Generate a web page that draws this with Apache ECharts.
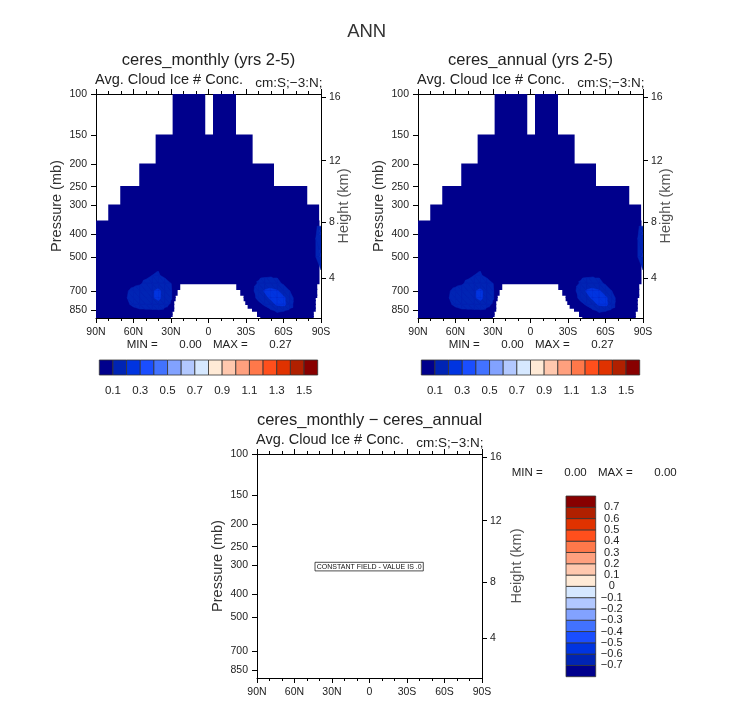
<!DOCTYPE html>
<html><head><meta charset="utf-8">
<script src="https://cdn.jsdelivr.net/npm/echarts@6/dist/echarts.min.js"></script>
<style>html,body{margin:0;padding:0;background:#fff}#c{width:733px;height:703px}</style>
</head><body><div id="c"></div>
<script>
// ---------------- data ----------------
const latTicks = [90, 60, 30, 0, -30, -60, -90];
const presTicks = [100, 150, 200, 250, 300, 400, 500, 700, 850];
const heightTicks = [4, 8, 12, 16];
const pTopAxis = 100, pBottomAxis = 915;

const contourLevels = [0.1,0.2,0.3,0.4,0.5,0.6,0.7,0.8,0.9,1.0,1.1,1.2,1.3,1.4,1.5];
const contourLabelLevels = [0.1,0.3,0.5,0.7,0.9,1.1,1.3,1.5];
const diffLevels = [-0.7,-0.6,-0.5,-0.4,-0.3,-0.2,-0.1,0,0.1,0.2,0.3,0.4,0.5,0.6,0.7];
const levelColors = ['#00008c','#0024b4','#0034e0','#1a4eff','#4272ff','#82a2ff','#b2c8ff','#d6e8ff',
                     '#ffead6','#ffc8ae','#ffa07e','#ff784a','#ff4f1c','#e03200','#b02000','#880000'];

// valid (non-missing) data extent per pressure band
const bandTopP    = [100,150,200,250,300,351,651,690,730,747,770,800,830,855,880,900];
const bandBottomP = [150,200,250,300,351,651,690,730,747,770,800,830,855,880,900,915];
const validNorth  = [28.7,42.3,55.4,70.6,80.2,90,90,90,90,90,90,90,90,90,90,90];
const validSouth  = [-22,-35.3,-52.4,-79,-88.5,-88.8,-87,-87,-87,-85.8,-85.8,-85.8,-85.8,-84.2,-84.2,-84.2];
const gapNorth    = [2.6,null,null,null,null,null,22.6,24.7,26.3,26.3,27.4,27.4,27.4,28.7,28.7,30];
const gapSouth    = [-3.6,null,null,null,null,null,-22.2,-25.4,-28.1,-28.1,-29.4,-31.3,-34.8,-38.8,-38.8,-41.4];

// cloud ice number concentration field (lat 90N..90S every 5 deg)
const fieldLats = [90,85,80,75,70,65,60,55,50,45,40,35,30,25,20,15,10,5,0,-5,-10,-15,-20,-25,-30,-35,-40,-45,-50,-55,-60,-65,-70,-75,-80,-85,-90];
const fieldLevels = [350,400,500,600,650,700,750,800,850,900];
const ice350 = [0.04,0.04,0.05,0.05,0.05,0.06,0.06,0.06,0.06,0.07,0.07,0.06,0.05,0.04,0.04,0.04,0.03,0.03,0.03,0.03,0.03,0.04,0.04,0.04,0.05,0.05,0.06,0.06,0.06,0.06,0.06,0.06,0.06,0.06,0.07,0.08,0.08];
const ice400 = [0.04,0.05,0.05,0.05,0.06,0.06,0.07,0.07,0.07,0.07,0.07,0.06,0.05,0.04,0.04,0.03,0.03,0.03,0.03,0.03,0.03,0.03,0.04,0.04,0.05,0.05,0.06,0.06,0.07,0.07,0.07,0.06,0.06,0.07,0.08,0.09,0.13];
const ice500 = [0.05,0.05,0.05,0.06,0.06,0.07,0.07,0.07,0.08,0.08,0.08,0.07,0.06,0.05,0.04,0.04,0.03,0.03,0.03,0.03,0.03,0.04,0.04,0.05,0.05,0.06,0.07,0.07,0.08,0.08,0.07,0.07,0.07,0.07,0.08,0.09,0.15];
const ice600 = [0.05,0.05,0.06,0.06,0.06,0.06,0.07,0.07,0.08,0.10,0.105,0.085,0.07,0.06,0.05,0.04,0.04,0.04,0.04,0.04,0.04,0.04,0.05,0.05,0.06,0.07,0.08,0.085,0.09,0.09,0.08,0.07,0.06,0.06,0.06,0.07,0.08];
const ice650 = [0.05,0.05,0.06,0.06,0.06,0.07,0.08,0.09,0.12,0.14,0.15,0.13,0.10,0.06,0.05,0.04,0.04,0.04,0.04,0.04,0.04,0.04,0.05,0.05,0.05,0.07,0.11,0.14,0.14,0.12,0.09,0.07,0.06,0.06,0.06,0.06,0.07];
const ice700 = [0.05,0.05,0.05,0.06,0.06,0.095,0.12,0.14,0.16,0.19,0.22,0.16,0.105,0.06,0.05,0.04,0.04,0.04,0.04,0.04,0.04,0.04,0.04,0.05,0.05,0.08,0.15,0.21,0.23,0.21,0.15,0.10,0.07,0.06,0.06,0.06,0.06];
const ice750 = [0.05,0.05,0.06,0.06,0.07,0.10,0.13,0.15,0.17,0.19,0.22,0.16,0.105,0.06,0.05,0.04,0.04,0.04,0.04,0.04,0.04,0.04,0.04,0.05,0.05,0.075,0.12,0.17,0.22,0.27,0.22,0.15,0.06,0.06,0.06,0.06,0.06];
const ice800 = [0.05,0.05,0.05,0.06,0.06,0.09,0.115,0.13,0.14,0.15,0.17,0.12,0.09,0.06,0.05,0.04,0.04,0.04,0.04,0.04,0.04,0.04,0.04,0.05,0.05,0.06,0.08,0.11,0.16,0.22,0.23,0.14,0.06,0.06,0.05,0.05,0.05];
const ice850 = [0.05,0.05,0.05,0.05,0.06,0.07,0.08,0.09,0.09,0.09,0.09,0.08,0.07,0.05,0.05,0.04,0.04,0.04,0.04,0.04,0.04,0.04,0.04,0.05,0.05,0.05,0.06,0.07,0.09,0.11,0.105,0.08,0.06,0.05,0.05,0.05,0.05];
const ice900 = [0.05,0.05,0.05,0.05,0.05,0.06,0.06,0.07,0.07,0.07,0.07,0.06,0.06,0.05,0.04,0.04,0.04,0.04,0.04,0.04,0.04,0.04,0.04,0.04,0.05,0.05,0.05,0.06,0.07,0.08,0.07,0.06,0.05,0.05,0.05,0.05,0.05];
const fieldRows = [ice350, ice400, ice500, ice600, ice650, ice700, ice750, ice800, ice850, ice900];

const panelTitles = ['ceres_monthly (yrs 2-5)', 'ceres_annual (yrs 2-5)', 'ceres_monthly \u2212 ceres_annual'];
const panelMin = [0.00, 0.00, 0.00];
const panelMax = [0.27, 0.27, 0.00];

// ---------------- helpers ----------------
const FONT = 'Liberation Sans, Arial, Helvetica, sans-serif';
const TXT = '#222';
const log10 = Math.log10;
function stdPressure(hKm){ const h=hKm*1000; return h<=11000 ? 1013.25*Math.pow(1-2.25577e-5*h,5.25588) : 226.32*Math.exp(-(h-11000)/6341.6); }
function stdHeight(p){ return p>=226.32 ? (1-Math.pow(p/1013.25,1/5.25588))/2.25577e-5/1000 : (11000-6341.6*Math.log(p/226.32))/1000; }

const maskData = [];
for (let k=0;k<bandTopP.length;k++){
  const yt=log10(bandTopP[k]), yb=log10(bandBottomP[k]);
  if (gapNorth[k]===null){ maskData.push([validNorth[k], yt, validSouth[k], yb]); }
  else { maskData.push([validNorth[k], yt, gapNorth[k], yb]); maskData.push([gapSouth[k], yt, validSouth[k], yb]); }
}
const contourCells = [];
for (let j=0;j<fieldLevels.length-1;j++) for (let i=0;i<fieldLats.length-1;i++){
  contourCells.push([fieldLats[i], log10(fieldLevels[j]), fieldLats[i+1], log10(fieldLevels[j+1]),
    fieldRows[j][i], fieldRows[j][i+1], fieldRows[j+1][i], fieldRows[j+1][i+1]]);
}
function clipPoly(pts, vals, t){
  const out=[]; const n=pts.length;
  for (let k=0;k<n;k++){
    const p=pts[k], q=pts[(k+1)%n], vp=vals[k], vq=vals[(k+1)%n];
    const pin=vp>=t, qin=vq>=t;
    if (pin) out.push(p);
    if (pin!==qin){ const f=(t-vp)/(vq-vp); out.push([p[0]+f*(q[0]-p[0]), p[1]+f*(q[1]-p[1])]); }
  }
  return out;
}
function renderMask(params, api){
  const a=api.coord([api.value(0), api.value(1)]), b=api.coord([api.value(2), api.value(3)]);
  const y=Math.min(a[1],b[1]), h=Math.abs(b[1]-a[1]);
  return {type:'rect', shape:{x:Math.min(a[0],b[0]), y:y-0.6, width:Math.abs(b[0]-a[0]), height:h+1.2},
          style:{fill:levelColors[0]}};
}
function renderContour(params, api){
  const la0=api.value(0), y0=api.value(1), la1=api.value(2), y1=api.value(3);
  const v00=api.value(4), v10=api.value(5), v01=api.value(6), v11=api.value(7);
  const P00=api.coord([la0,y0]), P10=api.coord([la1,y0]), P01=api.coord([la0,y1]), P11=api.coord([la1,y1]);
  const tris=[[[P00,P10,P11],[v00,v10,v11]],[[P00,P11,P01],[v00,v11,v01]]];
  const children=[];
  for (let L=0; L<2; L++){
    const t=contourLevels[L], col=levelColors[L+1];
    for (const [pts,vals] of tris){
      const poly=clipPoly(pts,vals,t);
      if (poly.length>=3) children.push({type:'polygon', shape:{points:poly}, style:{fill:col, stroke:col, lineWidth:0.5}});
    }
  }
  return {type:'group', children};
}
function renderBox(params, api){
  const a=api.coord([api.value(0), api.value(1)]), b=api.coord([api.value(2), api.value(3)]);
  return {type:'rect', shape:{x:Math.min(a[0],b[0]), y:Math.min(a[1],b[1]), width:Math.abs(b[0]-a[0]), height:Math.abs(b[1]-a[1])},
          style:{fill:levelColors[api.value(4)], stroke:'#333', lineWidth:0.8}};
}

// ---------------- layout ----------------
const PW=225, PH=224;
const panels=[{left:96, top:94},{left:418, top:94},{left:257, top:454}];
const grids=[], xAxes=[], yAxes=[], series=[], graphics=[];
const lineSt={color:'#000', width:1};
const axLabel={color:TXT, fontFamily:FONT, fontSize:10.5};

panels.forEach((P,g)=>{
  grids.push({left:P.left, top:P.top, width:PW, height:PH, containLabel:false, outerBoundsMode:'none', show:false});
  const baseX={gridIndex:g, type:'value', min:-90, max:90, interval:30, inverse:true,
    axisLine:{show:true, onZero:false, lineStyle:lineSt}, axisTick:{show:true, length:5, lineStyle:lineSt},
    minorTick:{show:true, splitNumber:3, length:3, lineStyle:lineSt}, splitLine:{show:false}, minorSplitLine:{show:false}};
  xAxes.push(Object.assign({}, baseX, {position:'bottom',
    axisLabel:Object.assign({}, axLabel, {margin:9, formatter:v=> v===0?'0':(v>0? v+'N' : (-v)+'S')})}));
  xAxes.push(Object.assign({}, baseX, {position:'top', axisLabel:{show:false}}));
  yAxes.push({gridIndex:g, type:'value', position:'left', min:log10(pTopAxis), max:log10(pBottomAxis), inverse:true,
    axisLine:{show:true, onZero:false, lineStyle:lineSt},
    axisTick:{show:true, length:5, lineStyle:lineSt, customValues:presTicks.map(log10)},
    axisLabel:Object.assign({}, axLabel, {margin:9, customValues:presTicks.map(log10), formatter:v=>String(Math.round(Math.pow(10,v)))}),
    splitLine:{show:false}});
  yAxes.push({gridIndex:g, type:'value', position:'right', min:log10(pTopAxis), max:log10(pBottomAxis), inverse:true,
    axisLine:{show:true, onZero:false, lineStyle:lineSt},
    axisTick:{show:true, length:5, lineStyle:lineSt, customValues:heightTicks.map(h=>log10(stdPressure(h)))},
    axisLabel:Object.assign({}, axLabel, {margin:8, customValues:heightTicks.map(h=>log10(stdPressure(h))), formatter:v=>String(Math.round(stdHeight(Math.pow(10,v))))}),
    splitLine:{show:false}});
  if (g<2){
    series.push({type:'custom', coordinateSystem:'cartesian2d', xAxisIndex:2*g, yAxisIndex:2*g, data:maskData, renderItem:renderMask, clip:true, silent:true, animation:false});
    series.push({type:'custom', coordinateSystem:'cartesian2d', xAxisIndex:2*g, yAxisIndex:2*g, data:contourCells, renderItem:renderContour, clip:true, silent:true, animation:false});
  }
  const cx=P.left+PW/2, cy=P.top+PH/2;
  graphics.push({type:'text', x:cx, y:P.top-34, style:{text:panelTitles[g], fontFamily:FONT, fontSize:16.5, fill:TXT, align:'center', verticalAlign:'middle'}});
  graphics.push({type:'text', x:P.left-1, y:P.top-14, style:{text:'Avg. Cloud Ice # Conc.', fontFamily:FONT, fontSize:14.5, fill:TXT, align:'left', verticalAlign:'middle'}});
  graphics.push({type:'text', x:P.left+PW+1.5, y:P.top-11, style:{text:'cm:S;\u22123:N;', fontFamily:FONT, fontSize:13.5, fill:TXT, align:'right', verticalAlign:'middle'}});
  graphics.push({type:'text', x:P.left-39, y:cy, rotation:Math.PI/2, style:{text:'Pressure (mb)', fontFamily:FONT, fontSize:14.5, fill:'#333', align:'center', verticalAlign:'middle'}});
  const hx = g<2 ? P.left+PW+22.5 : P.left+PW+35;
  graphics.push({type:'text', x:hx, y:cy, rotation:Math.PI/2, style:{text:'Height (km)', fontFamily:FONT, fontSize:14.5, fill:'#555', align:'center', verticalAlign:'middle'}});
});

// MIN / MAX lines
function minMax(x0, y, g, xs){
  graphics.push({type:'text', x:x0+xs[0], y, style:{text:'MIN =', fontFamily:FONT, fontSize:11.5, fill:TXT, align:'left', verticalAlign:'middle'}});
  graphics.push({type:'text', x:x0+xs[1], y, style:{text:panelMin[g].toFixed(2), fontFamily:FONT, fontSize:11.5, fill:TXT, align:'right', verticalAlign:'middle'}});
  graphics.push({type:'text', x:x0+xs[2], y, style:{text:'MAX =', fontFamily:FONT, fontSize:11.5, fill:TXT, align:'left', verticalAlign:'middle'}});
  graphics.push({type:'text', x:x0+xs[3], y, style:{text:panelMax[g].toFixed(2), fontFamily:FONT, fontSize:11.5, fill:TXT, align:'right', verticalAlign:'middle'}});
}
minMax(96, 345, 0, [30.7, 105.7, 117, 195.7]);
minMax(418, 345, 1, [30.7, 105.7, 117, 195.7]);
minMax(257, 473, 2, [254.7, 329.7, 341, 419.7]);

// constant field box
graphics.push({type:'rect', shape:{x:315, y:562.3, width:108.3, height:8.6}, style:{fill:'#fff', stroke:'#222', lineWidth:0.8}});
graphics.push({type:'text', x:369.2, y:566.8, style:{text:'CONSTANT FIELD - VALUE IS .0', fontFamily:FONT, fontSize:7, fill:'#111', align:'center', verticalAlign:'middle'}});

// title
graphics.push({type:'text', x:366.7, y:31.5, style:{text:'ANN', fontFamily:FONT, fontSize:18.5, fill:'#333', align:'center', verticalAlign:'middle'}});

// ---------------- colorbars ----------------
const boxData = levelColors.map((c,k)=>[k,0,k+1,1,k]);
const boxDataV = levelColors.map((c,k)=>[0,k,1,k+1,k]);
[[99.3],[421.3]].forEach(([lx],n)=>{
  const gi=grids.length;
  grids.push({left:lx, top:360, width:218.4, height:15, containLabel:false, outerBoundsMode:'none', show:false});
  xAxes.push({gridIndex:gi, type:'value', min:0, max:16, axisLine:{show:false}, axisTick:{show:false}, splitLine:{show:false},
    axisLabel:Object.assign({}, axLabel, {fontSize:11.5, margin:10, customValues:contourLabelLevels.map(v=>contourLevels.indexOf(v)+1), formatter:v=>String(contourLevels[v-1])})});
  yAxes.push({gridIndex:gi, type:'value', min:0, max:1, show:false});
  series.push({type:'custom', coordinateSystem:'cartesian2d', xAxisIndex:xAxes.length-1, yAxisIndex:yAxes.length-1, data:boxData, renderItem:renderBox, silent:true, animation:false});
});
{
  const gi=grids.length;
  grids.push({left:566, top:496, width:29.7, height:180.7, containLabel:false, outerBoundsMode:'none', show:false});
  xAxes.push({gridIndex:gi, type:'value', min:0, max:1, show:false});
  yAxes.push({gridIndex:gi, type:'value', position:'right', min:0, max:16, axisLine:{show:false}, axisTick:{show:false}, splitLine:{show:false},
    axisLabel:Object.assign({}, axLabel, {fontSize:11, margin:16, align:'center', customValues:diffLevels.map((v,k)=>k+1), formatter:v=>String(diffLevels[v-1]).replace('-','\u2212')})});
  series.push({type:'custom', coordinateSystem:'cartesian2d', xAxisIndex:xAxes.length-1, yAxisIndex:yAxes.length-1, data:boxDataV, renderItem:renderBox, silent:true, animation:false});
}

const chart = echarts.init(document.getElementById('c'), null, {renderer:'canvas'});
chart.setOption({animation:false, backgroundColor:'#fff', grid:grids, xAxis:xAxes, yAxis:yAxes, series, graphic:{elements:graphics}, tooltip:{show:false}});
</script></body></html>
